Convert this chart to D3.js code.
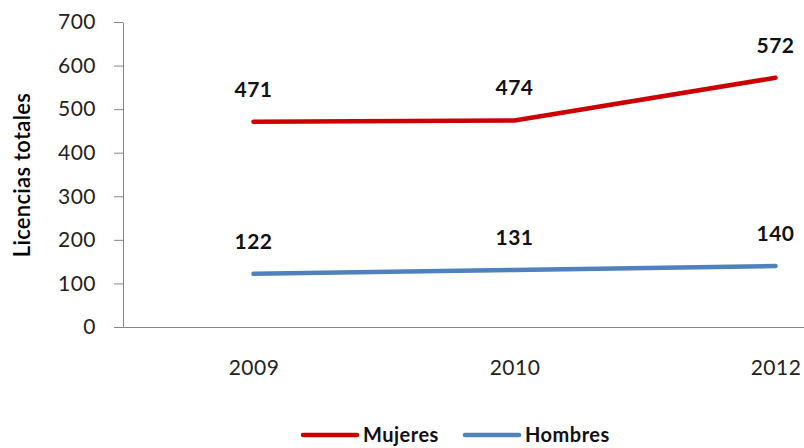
<!DOCTYPE html>
<html><head><meta charset="utf-8">
<script src="https://cdn.jsdelivr.net/npm/d3@7"></script>
<style>body{margin:0;background:#fff}svg{display:block}</style>
</head><body>
<svg id="c" width="804" height="448"></svg>
<script>
const categories = ["2009", "2010", "2012"];
const mujeres = [471, 474, 572];
const hombres = [122, 131, 140];
const seriesNames = ["Mujeres", "Hombres"];
const yTicks = [0, 100, 200, 300, 400, 500, 600, 700];

const svg = d3.select("#c");
const font = "Lato, 'Open Sans', sans-serif";
const x = d3.scalePoint().domain(categories).range([123, 906]).padding(0.5);
const y = d3.scaleLinear().domain([0, 700]).range([327, 22]);
const colors = {Mujeres: "#CC0000", Hombres: "#4F81BD"};
const data = {Mujeres: mujeres, Hombres: hombres};

// y axis
const ya = svg.append("g").attr("transform", "translate(123,0)")
  .call(d3.axisLeft(y).tickValues(yTicks).tickSize(9).tickPadding(18).tickSizeOuter(0));
ya.select(".domain").attr("stroke", "#868686");
ya.selectAll(".tick line").attr("stroke", "#868686");
ya.selectAll("text").attr("font-family", font).attr("font-size", 21).attr("fill", "#222")
  .attr("letter-spacing", "0.5px");

// x axis
const xa = svg.append("g").attr("transform", "translate(0,327)")
  .call(d3.axisBottom(x).tickSize(0).tickPadding(33));
xa.select(".domain").attr("stroke", "#868686").attr("d", "M123,0.5H906");
xa.selectAll("text").attr("font-family", font).attr("font-size", 21).attr("fill", "#222")
  .attr("letter-spacing", "0.5px");

// y label
svg.append("text").attr("transform", "translate(30,175) rotate(-90)")
  .attr("text-anchor", "middle").attr("font-family", font).attr("font-size", 22)
  .attr("font-weight", 600).attr("letter-spacing", "0.3px")
  .attr("fill", "#000").text("Licencias totales");

const line = d3.line().x((d, i) => x(categories[i])).y(d => y(d));
seriesNames.forEach(name => {
  svg.append("path").datum(data[name]).attr("d", line)
    .attr("fill", "none").attr("stroke", colors[name]).attr("stroke-width", 4.5)
    .attr("stroke-linecap", "round").attr("stroke-linejoin", "round");
  svg.append("g").selectAll("text").data(data[name]).join("text")
    .attr("x", (d, i) => x(categories[i]))
    .attr("y", d => y(d) - 25)
    .attr("text-anchor", "middle").attr("font-family", font).attr("font-weight", "bold")
    .attr("font-size", 21).attr("letter-spacing", "0.5px").attr("fill", "#111").text(d => d);
});

// legend
const legX = [303, 465];
seriesNames.forEach((name, i) => {
  const g = svg.append("g").attr("transform", `translate(${legX[i]},435)`);
  g.append("line").attr("x1", 0).attr("x2", 54).attr("y1", 0).attr("y2", 0)
    .attr("stroke", colors[name]).attr("stroke-width", 4.5).attr("stroke-linecap", "round");
  g.append("text").attr("x", 60).attr("y", 7).attr("font-family", font)
    .attr("font-weight", "bold").attr("font-size", 20).attr("letter-spacing", "0.5px")
    .attr("fill", "#111").text(name);
});
</script>
</body></html>
